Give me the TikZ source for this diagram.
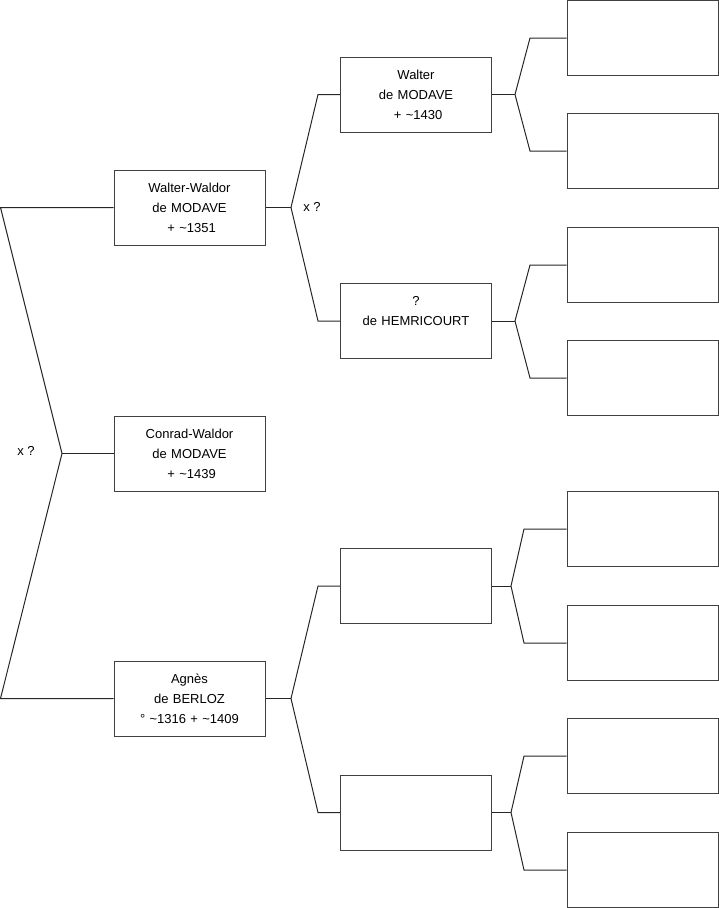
\documentclass[tikz,border=0pt]{standalone}
\usepackage{fontspec}
\setmainfont{Liberation Sans}
\begin{document}
\begin{tikzpicture}[x=1pt,y=-1pt,
  box/.style={draw=black!75,line width=1pt,minimum width=151pt,minimum height=75pt,
    inner sep=0pt,text width=151pt,align=center,font=\fontsize{13}{20}\selectfont},
  link/.style={draw=black!85,line width=1pt},
  lbl/.style={font=\fontsize{13}{15}\selectfont,inner sep=0pt}]
\useasboundingbox (0,0) rectangle (719,908);
% column 1
\node[box] (ww) at (189.5,207.5) {Walter-Waldor\\de MODAVE\\\ + \textasciitilde1351};
\node[box] (cw) at (189.5,453.5) {Conrad-Waldor\\de MODAVE\\\ + \textasciitilde1439};
\node[box] (ag) at (189.5,698.5) {Agnès\\de BERLOZ\\° \textasciitilde1316 + \textasciitilde1409};
% column 2
\node[box] (wa) at (416,94.5) {Walter\\de MODAVE\\\ + \textasciitilde1430};
\node[box] (he) at (416,321) {?\\de HEMRICOURT\\~};
\node[box] (b3) at (416,586) {};
\node[box] (b4) at (416,812.5) {};
% column 3
\node[box] (c1) at (642.5,38) {};
\node[box] (c2) at (642.5,151) {};
\node[box] (c3) at (642.5,265) {};
\node[box] (c4) at (642.5,378) {};
\node[box] (c5) at (642.5,529) {};
\node[box] (c6) at (642.5,643) {};
\node[box] (c7) at (642.5,756) {};
\node[box] (c8) at (642.5,870) {};
% left bracket
\coordinate (l1) at (0.5,207.5);
\coordinate (l2) at (0.5,698.5);
\coordinate (lj) at (62,453.5);
\draw[link] (ww.west) -- (l1) -- (lj) -- (l2) -- (ag.west);
\draw[link] (lj) -- (cw.west);
\node[lbl] (x1) at (26,451) {x ?};
% col1 -> col2
\coordinate (j1) at (291,207.5);
\coordinate (j1a) at (318,94.5);
\coordinate (j1b) at (318,321);
\draw[link] (ww.east) -- (j1);
\draw[link] (wa.west) -- (j1a) -- (j1) -- (j1b) -- (he.west);
\node[lbl] (x2) at (312,207) {x ?};
\coordinate (j2) at (291,698.5);
\coordinate (j2a) at (318,586);
\coordinate (j2b) at (318,812.5);
\draw[link] (ag.east) -- (j2);
\draw[link] (b3.west) -- (j2a) -- (j2) -- (j2b) -- (b4.west);
% col2 -> col3
\coordinate (k1) at (515,94.5);
\coordinate (k1a) at (530,38);
\coordinate (k1b) at (530,151);
\draw[link] (wa.east) -- (k1);
\draw[link] (c1.west) -- (k1a) -- (k1) -- (k1b) -- (c2.west);
\coordinate (k2) at (515,321);
\coordinate (k2a) at (530,265);
\coordinate (k2b) at (530,378);
\draw[link] (he.east) -- (k2);
\draw[link] (c3.west) -- (k2a) -- (k2) -- (k2b) -- (c4.west);
\coordinate (k3) at (511,586);
\coordinate (k3a) at (524,529);
\coordinate (k3b) at (524,643);
\draw[link] (b3.east) -- (k3);
\draw[link] (c5.west) -- (k3a) -- (k3) -- (k3b) -- (c6.west);
\coordinate (k4) at (511,812.5);
\coordinate (k4a) at (524,756);
\coordinate (k4b) at (524,870);
\draw[link] (b4.east) -- (k4);
\draw[link] (c7.west) -- (k4a) -- (k4) -- (k4b) -- (c8.west);
\end{tikzpicture}
\end{document}
